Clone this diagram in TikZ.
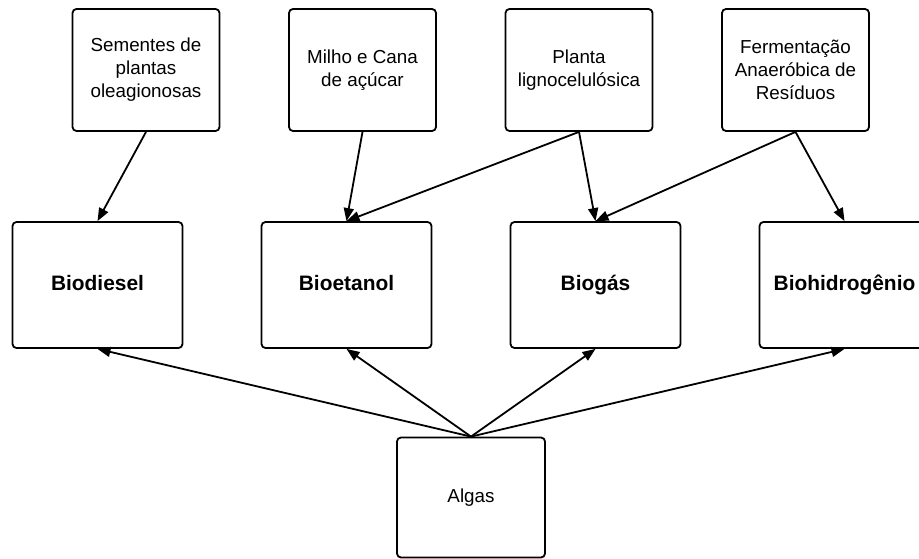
\documentclass[tikz,border=0pt]{standalone}
\usepackage{tikz}
\usepackage{xcolor}
\usepackage{fontspec}
\setmainfont{Liberation Sans}
\usetikzlibrary{arrows.meta, positioning}

\begin{document}
\begin{tikzpicture}[x=1pt, y=1pt, node distance=77.2pt]
        \tikzstyle{source} = [rectangle, rounded corners=4pt, minimum width=147pt, minimum height=122pt, align=center, font=\fontsize{18.8}{23}\selectfont, draw=black, line width=1.8pt]
        \tikzstyle{product} = [rectangle, rounded corners=4pt, minimum width=170pt, minimum height=126pt, text centered, text height=15pt, text depth=4.5pt, font=\fontsize{20.9}{25}\selectfont\bfseries, draw=black, line width=1.8pt]
        \tikzstyle{arrow} = [-{Triangle[length=13pt, width=10pt]}, line width=1.8pt]

        \useasboundingbox (0,0) rectangle (919,-559);

        \node[product] (biodiesel) at (97.5,-285) {Biodiesel};
        \node[product, right=of biodiesel] (bioetanol) {Bioetanol};
        \node[product, right=of bioetanol] (biogas) {Biogás};
        \node[product, right=of biogas] (biohidrogenio) {Biohidrogênio};

        \node[source] (sementes) at (146,-70) {Sementes de\\plantas\\oleagionosas};
        \node[source, right=67.7pt of sementes] (milho) {Milho e Cana\\de açúcar};
        \node[source, right=67.7pt of milho] (planta) {Planta\\lignocelulósica};
        \node[source, right=67.7pt of planta] (fermentacao) {Fermentação\\Anaeróbica de\\Resíduos};

        \node[source, minimum width=148pt, minimum height=120pt] (algas) at (471,-497.5) {Algas};

        \draw[arrow] (sementes.south) -- (biodiesel.north);
        \draw[arrow] (milho.south) -- (bioetanol.north);
        \draw[arrow] (planta.south) -- (bioetanol.north);
        \draw[arrow] (planta.south) -- (biogas.north);
        \draw[arrow] (fermentacao.south) -- (biogas.north);
        \draw[arrow] (fermentacao.south) -- (biohidrogenio.north);

        \draw[arrow] (algas.north) -- (biodiesel.south);
        \draw[arrow] (algas.north) -- (bioetanol.south);
        \draw[arrow] (algas.north) -- (biogas.south);
        \draw[arrow] (algas.north) -- (biohidrogenio.south);
    \end{tikzpicture}
\end{document}
